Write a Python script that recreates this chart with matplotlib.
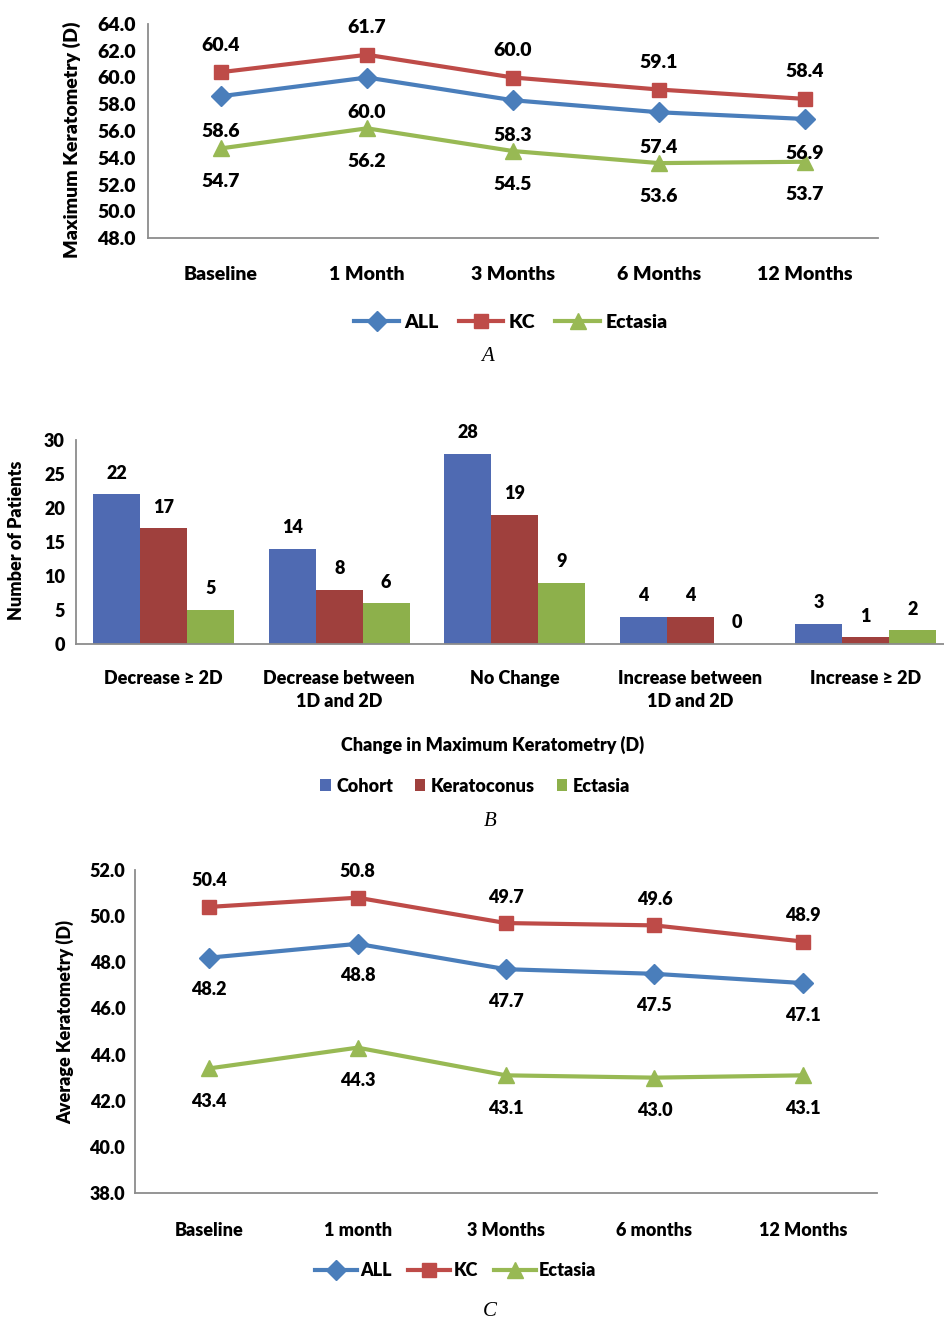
import matplotlib.pyplot as plt
import numpy as np

plt.rcParams['font.family'] = ['Lato', 'DejaVu Sans']
plt.rcParams['font.weight'] = 'heavy'

# Maximum keratometry over follow-up
timepoints_a = ['Baseline', '1 Month', '3 Months', '6 Months', '12 Months']
max_k_all = [58.6, 60.0, 58.3, 57.4, 56.9]
max_k_kc = [60.4, 61.7, 60.0, 59.1, 58.4]
max_k_ectasia = [54.7, 56.2, 54.5, 53.6, 53.7]

# Change in maximum keratometry at 12 months (patient counts)
change_groups = ['Decrease ≥ 2D', 'Decrease between\n1D and 2D', 'No Change',
                 'Increase between\n1D and 2D', 'Increase ≥ 2D']
n_cohort = [22, 14, 28, 4, 3]
n_keratoconus = [17, 8, 19, 4, 1]
n_ectasia = [5, 6, 9, 0, 2]

# Average keratometry over follow-up
timepoints_c = ['Baseline', '1 month', '3 Months', '6 months', '12 Months']
avg_k_all = [48.2, 48.8, 47.7, 47.5, 47.1]
avg_k_kc = [50.4, 50.8, 49.7, 49.6, 48.9]
avg_k_ectasia = [43.4, 44.3, 43.1, 43.0, 43.1]

W, H = 944, 1323
LINE_BLUE, LINE_RED, LINE_GREEN = '#4A7EBB', '#BE4B48', '#98B954'
BAR_BLUE, BAR_RED, BAR_GREEN = '#4F6AB2', '#9F403D', '#8DB04B'
SPINE = '#8c8c8c'

fig = plt.figure(figsize=(W / 100, H / 100), dpi=100)


def px_axes(left, top, right, bottom):
    return fig.add_axes([left / W, 1 - bottom / H, (right - left) / W, (bottom - top) / H])


def style_axes(ax, ypad, xpad, fs):
    for side in ['top', 'right']:
        ax.spines[side].set_visible(False)
    for side in ['left', 'bottom']:
        ax.spines[side].set_color(SPINE)
        ax.spines[side].set_linewidth(1.3)
    ax.tick_params(axis='y', length=0, pad=ypad, labelsize=fs)
    ax.tick_params(axis='x', length=0, pad=xpad, labelsize=fs)


def fig_text(x, y, s, **kw):
    fig.text(x / W, 1 - y / H, s, ha='center', va='center', **kw)


def line_panel(ax, labels, all_v, kc_v, ect_v, offsets, fs):
    x = np.arange(len(labels))
    h_all, = ax.plot(x, all_v, color=LINE_BLUE, lw=3, marker='D', ms=10, label='ALL')
    h_kc, = ax.plot(x, kc_v, color=LINE_RED, lw=3, marker='s', ms=10, label='KC')
    h_ect, = ax.plot(x, ect_v, color=LINE_GREEN, lw=3, marker='^', ms=11, label='Ectasia')
    for vals, dy in zip([all_v, kc_v, ect_v], offsets):
        for i, v in enumerate(vals):
            ax.annotate(f'{v:.1f}', (i, v), xytext=(0, dy), textcoords='offset pixels',
                        ha='center', va='center', fontsize=fs)
    ax.set_xticks(x)
    ax.set_xticklabels(labels)
    ax.set_xlim(-0.5, len(labels) - 0.5)
    return [h_all, h_kc, h_ect]


# Panel A
ax_a = px_axes(148, 24, 878, 238)
handles = line_panel(ax_a, timepoints_a, max_k_all, max_k_kc, max_k_ectasia, (-35, 27, -33), 14)
ax_a.set_ylim(48, 64)
ax_a.set_yticks(np.arange(48, 64.1, 2))
ax_a.set_yticklabels([f'{t:.1f}' for t in np.arange(48, 64.1, 2)])
style_axes(ax_a, 9, 20, 14)
fig_text(72, 140, 'Maximum Keratometry (D)', rotation=90, fontsize=14)
fig.legend(handles, ['ALL', 'KC', 'Ectasia'], loc='center', bbox_to_anchor=(511 / W, 1 - 322 / H),
           ncol=3, frameon=False, fontsize=14, handlelength=2.3, handletextpad=0.3,
           columnspacing=1.0, numpoints=1)
fig_text(488, 357, 'A', family='Liberation Serif', style='italic', weight='normal', fontsize=15)

# Panel B
ax_b = px_axes(76, 440, 944, 644)
x = np.arange(len(change_groups))
bw = 0.267
bars = []
for k, (vals, color, name) in enumerate(zip([n_cohort, n_keratoconus, n_ectasia],
                                           [BAR_BLUE, BAR_RED, BAR_GREEN],
                                           ['Cohort', 'Keratoconus', 'Ectasia'])):
    b = ax_b.bar(x + (k - 1) * bw, vals, bw, color=color, label=name)
    bars.append(b)
    for rect, v in zip(b, vals):
        ax_b.annotate(str(v), (rect.get_x() + rect.get_width() / 2, v), xytext=(0, 21),
                      textcoords='offset pixels', ha='center', va='center', fontsize=13)
ax_b.set_xticks(x)
ax_b.set_xticklabels(change_groups, linespacing=1.4)
ax_b.set_xlim(-0.5, -0.5 + 868 / 175.5)
ax_b.set_ylim(0, 30)
ax_b.set_yticks(range(0, 31, 5))
style_axes(ax_b, 8, 19, 13)
fig_text(17, 540, 'Number of Patients', rotation=90, fontsize=13)
fig_text(493, 745, 'Change in Maximum Keratometry (D)', fontsize=13)
fig.legend(bars, ['Cohort', 'Keratoconus', 'Ectasia'], loc='center',
           bbox_to_anchor=(475 / W, 1 - 786 / H), ncol=3, frameon=False, fontsize=13,
           handlelength=0.6, handleheight=0.6, handletextpad=0.3, columnspacing=1.2)
fig_text(490, 822, 'B', family='Liberation Serif', style='italic', weight='normal', fontsize=15)

# Panel C
ax_c = px_axes(135, 870, 877, 1193)
handles = line_panel(ax_c, timepoints_c, avg_k_all, avg_k_kc, avg_k_ectasia, (-32, 26, -33), 13)
ax_c.set_ylim(38, 52)
ax_c.set_yticks(np.arange(38, 52.1, 2))
ax_c.set_yticklabels([f'{t:.1f}' for t in np.arange(38, 52.1, 2)])
style_axes(ax_c, 7, 21, 13)
fig_text(65, 1022, 'Average Keratometry (D)', rotation=90, fontsize=13)
fig.legend(handles, ['ALL', 'KC', 'Ectasia'], loc='center', bbox_to_anchor=(456 / W, 1 - 1271 / H),
           ncol=3, frameon=False, fontsize=13, handlelength=2.3, handletextpad=0.2,
           columnspacing=0.9, numpoints=1)
fig_text(490, 1311, 'C', family='Liberation Serif', style='italic', weight='normal', fontsize=15)

fig.savefig('out.png', dpi=100)
